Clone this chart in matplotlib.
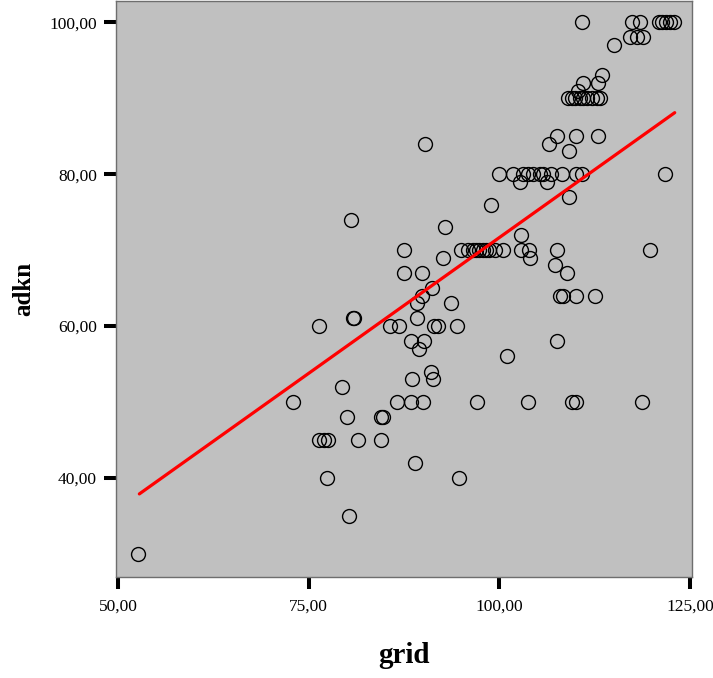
import matplotlib
matplotlib.use("Agg")
import matplotlib.pyplot as plt
import numpy as np

# scatter values (grid vs adkn)
grid = [
    52.6, 72.9, 76.3, 76.3, 77.0, 77.5, 77.4, 79.4, 80.0, 80.3,
    80.5, 80.8, 80.9, 81.5, 84.5, 84.7, 84.5, 85.7, 86.9, 86.6,
    87.5, 87.5, 88.4, 88.4, 88.6, 88.9, 89.2, 89.2, 89.5, 89.9,
    89.9, 90.0, 90.1, 90.3, 91.0, 91.2, 91.3, 91.5, 92.0, 92.6,
    92.9, 93.7, 94.4, 94.7,
    95.0, 95.9, 96.5, 97.0, 97.4, 97.9, 98.3, 98.7, 99.4, 100.5,
    97.1, 98.9,
    100.0, 101.8, 103.1, 103.8, 104.4, 105.3, 105.7, 106.8, 108.2, 110.1, 110.8,
    101.0, 102.7, 106.2, 102.9, 102.9, 103.9, 103.7, 104.0, 106.5, 107.3,
    107.5, 107.6, 107.6, 107.9, 108.4, 108.9, 109.2, 109.2, 109.5, 110.0,
    110.0, 110.0,
    109.0, 109.5, 109.9, 110.6, 111.0, 111.5, 112.1, 112.8, 113.2,
    110.3, 110.8, 111.0, 112.6, 112.9, 112.9, 113.4, 115.0,
    117.1, 118.1, 118.9, 117.4, 118.5, 118.7, 119.7,
    120.9, 121.3, 121.8, 122.4, 122.9, 121.75,
]
adkn = [
    30, 50, 60, 45, 45, 45, 40, 52, 48, 35,
    74, 61, 61, 45, 48, 48, 45, 60, 60, 50,
    70, 67, 58, 50, 53, 42, 63, 61, 57, 67,
    64, 50, 58, 84, 54, 65, 53, 60, 60, 69,
    73, 63, 60, 40,
    70, 70, 70, 70, 70, 70, 70, 70, 70, 70,
    50, 76,
    80, 80, 80, 80, 80, 80, 80, 80, 80, 80, 80,
    56, 79, 79, 72, 70, 70, 50, 69, 84, 68,
    70, 58, 85, 64, 64, 67, 83, 77, 50, 50,
    85, 64,
    90, 90, 90, 90, 90, 90, 90, 90, 90,
    91, 100, 92, 64, 85, 92, 93, 97,
    98, 98, 98, 100, 100, 50, 70,
    100, 100, 100, 100, 100, 80,
]

# fit line end points
fit_x = [52.8, 123.0]
fit_y = [37.9, 88.1]

xticks = [50, 75, 100, 125]
xtick_labels = ["50,00", "75,00", "100,00", "125,00"]
yticks = [40, 60, 80, 100]
ytick_labels = ["40,00", "60,00", "80,00", "100,00"]

plt.rcParams['font.family'] = ['Liberation Serif', 'DejaVu Serif']

fig = plt.figure(figsize=(7.13, 6.78), dpi=100)
ax = fig.add_axes([0.1627, 0.1494, 0.8078, 0.8491])
ax.set_facecolor('#c0c0c0')

ax.plot(grid, adkn, linestyle='none', marker='o', markersize=10,
        markerfacecolor='none', markeredgecolor='black', markeredgewidth=1.0)
ax.plot(fit_x, fit_y, color='#ff0000', linewidth=2.3, solid_capstyle='round')

ax.set_xlim(49.74, 125.26)
ax.set_ylim(27.0, 102.8)
ax.set_xticks(xticks)
ax.set_xticklabels(xtick_labels)
ax.set_yticks(yticks)
ax.set_yticklabels(ytick_labels)
ax.tick_params(axis='both', direction='out', length=8.6, width=2.9,
               color='black', labelsize=12.5)
ax.tick_params(axis='x', pad=7)
ax.tick_params(axis='y', pad=5)

for s in ax.spines.values():
    s.set_color('#6e6e6e')
    s.set_linewidth(1.0)

ax.set_xlabel('grid', fontsize=21, fontweight='bold', labelpad=20)
ax.set_ylabel('adkn', fontsize=18, fontweight='bold', labelpad=10)

fig.savefig('out.png', dpi=100)
